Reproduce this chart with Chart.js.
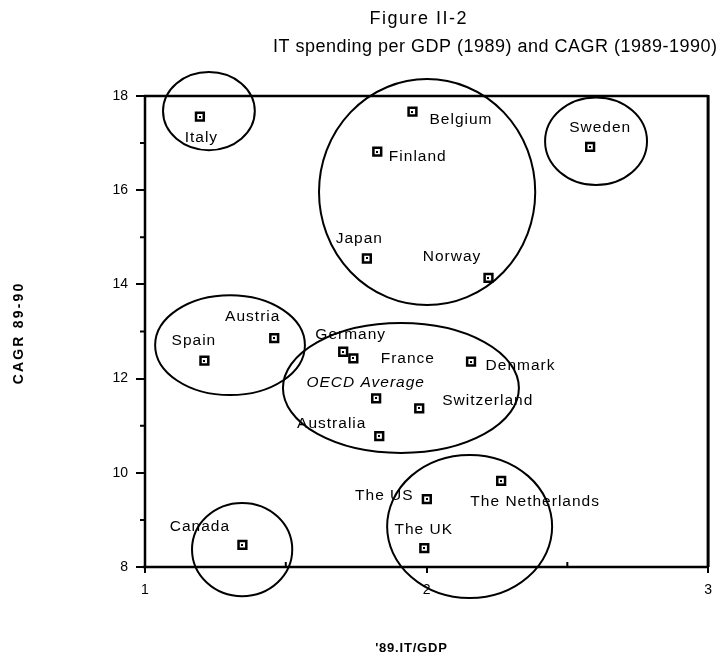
<!DOCTYPE html>
<html><head><meta charset="utf-8">
<script src="https://cdn.jsdelivr.net/npm/chart.js@4/dist/chart.umd.min.js"></script>
<style>html,body{margin:0;padding:0;background:#fff}#wrap{width:721px;height:661px;position:relative}</style>
</head><body><div id="wrap"><canvas id="c" width="721" height="661"></canvas></div>
<script>
// ---- data ----
const countries = ["Italy","Belgium","Finland","Sweden","Japan","Norway","Austria","Spain","Germany","France","Denmark","OECD Average","Switzerland","Australia","The Netherlands","The US","The UK","Canada"];
const itPerGdp89 = [1.195,1.950,1.825,2.581,1.788,2.220,1.459,1.211,1.704,1.740,2.158,1.821,1.974,1.832,2.265,2.001,1.992,1.346];
const cagr8990  = [17.56,17.67,16.82,16.92,14.55,14.14,12.86,12.38,12.57,12.43,12.36,11.58,11.37,10.78,9.83,9.44,8.40,8.47];
const xTickValues = [1,2,3];
const yTickValues = [8,10,12,14,16,18];
const xMinorTickValues = [1.5,2.5];
const yMinorTickValues = [9,11,13,15,17];
// group circles (data units): centre x, centre y, radius x, radius y
const groupCentreX = [1.227,2.002,2.602,1.302,1.909,2.153,1.345];
const groupCentreY = [17.68,15.96,17.04,12.71,11.80,8.86,8.37];
const groupRadiusX = [0.163,0.384,0.181,0.266,0.419,0.293,0.178];
const groupRadiusY = [0.83,2.40,0.93,1.06,1.38,1.52,0.99];
const titleLine1 = "Figure II-2";
const titleLine2 = "IT spending per GDP (1989) and CAGR (1989-1990)";
const xAxisTitle = "'89.IT/GDP";
const yAxisTitle = "CAGR 89-90";

// ---- label placement (pixel offsets from the point, style only) ----
const labelOffsets = [[1,20.5],[48,8],[40,5],[9.5,-19],[-8,-20],[-37,-21],[-22,-21],[-11,-20],[7,-17],[54,0],[49,4],[-11,-16],[68,-8],[-48,-12],[33.5,21],[-43,-3],[-1,-18],[-43,-18]];
const italicLabels = ["OECD Average"];

const FONT = "'Liberation Sans', Arial, Helvetica, sans-serif";

function spacedText(ctx, text, x, y, spacing) {
  ctx.letterSpacing = spacing + 'px';
  ctx.fillText(text, x + spacing / 2, y);
  ctx.letterSpacing = '0px';
}

const decorPlugin = {
  id: 'decor',
  afterDatasetsDraw(chart) {
    const ctx = chart.ctx, xs = chart.scales.x, ys = chart.scales.y, ca = chart.chartArea;
    ctx.save();
    ctx.strokeStyle = '#000';
    ctx.fillStyle = '#000';
    // frame
    ctx.lineWidth = 2.5;
    ctx.beginPath();
    ctx.moveTo(ca.left, ca.bottom); ctx.lineTo(ca.left, ca.top); ctx.lineTo(ca.right, ca.top);
    ctx.moveTo(ca.left - 2, ca.bottom); ctx.lineTo(ca.right, ca.bottom);
    ctx.stroke();
    ctx.lineWidth = 3;
    ctx.beginPath(); ctx.moveTo(ca.right, ca.top - 1); ctx.lineTo(ca.right, ca.bottom); ctx.stroke();
    // minor ticks
    ctx.lineWidth = 2;
    ctx.beginPath();
    yMinorTickValues.forEach(v => { const p = ys.getPixelForValue(v); ctx.moveTo(ca.left - 5, p); ctx.lineTo(ca.left, p); });
    xMinorTickValues.forEach(v => { const p = xs.getPixelForValue(v); ctx.moveTo(p, ca.bottom); ctx.lineTo(p, ca.bottom - 5); });
    ctx.stroke();
    // group ellipses
    ctx.lineWidth = 2;
    for (let i = 0; i < groupCentreX.length; i++) {
      const cx = xs.getPixelForValue(groupCentreX[i]);
      const cy = ys.getPixelForValue(groupCentreY[i]);
      const rx = Math.abs(xs.getPixelForValue(groupCentreX[i] + groupRadiusX[i]) - cx);
      const ry = Math.abs(ys.getPixelForValue(groupCentreY[i] + groupRadiusY[i]) - cy);
      ctx.beginPath(); ctx.ellipse(cx, cy, rx, ry, 0, 0, Math.PI * 2); ctx.stroke();
    }
    // inner dots of markers + labels
    const meta = chart.getDatasetMeta(0);
    ctx.textAlign = 'center'; ctx.textBaseline = 'middle';
    meta.data.forEach((pt, i) => {
      ctx.fillRect(Math.round(pt.x) - 1, Math.round(pt.y) - 1, 2, 2);
      const name = countries[i];
      ctx.font = (italicLabels.includes(name) ? 'italic ' : '') + '15.5px ' + FONT;
      spacedText(ctx, name, pt.x + labelOffsets[i][0], pt.y + labelOffsets[i][1], 1.0);
    });
    // titles
    ctx.font = '18px ' + FONT;
    spacedText(ctx, titleLine1, 418, 19, 1.5);
    spacedText(ctx, titleLine2, 495, 47, 0.5);
    // axis titles
    ctx.font = 'bold 13px ' + FONT;
    spacedText(ctx, xAxisTitle, 411, 648, 0.8);
    ctx.save();
    ctx.translate(19, 334); ctx.rotate(-Math.PI / 2);
    ctx.font = 'bold 14px ' + FONT;
    spacedText(ctx, yAxisTitle, 0, 0, 2.2);
    ctx.restore();
    ctx.restore();
  }
};

new Chart(document.getElementById('c'), {
  type: 'scatter',
  data: {
    datasets: [{
      data: itPerGdp89.map((x, i) => ({ x: x, y: cagr8990[i] })),
      pointStyle: 'rect',
      pointRadius: 5.5,
      pointBorderWidth: 2.5,
      pointBorderColor: '#000',
      pointBackgroundColor: '#fff'
    }]
  },
  options: {
    responsive: false,
    animation: false,
    devicePixelRatio: 1,
    layout: { padding: { top: 96, right: 12, left: 0, bottom: 0 } },
    plugins: { legend: { display: false }, tooltip: { enabled: false }, title: { display: false } },
    scales: {
      x: {
        type: 'linear', min: 1, max: 3,
        afterBuildTicks: s => { s.ticks = xTickValues.map(v => ({ value: v })); },
        afterFit: s => { s.height = 94; },
        border: { display: false },
        grid: { drawOnChartArea: false, drawTicks: true, tickLength: 6, color: '#000', lineWidth: 2 },
        ticks: { color: '#000', padding: 9, font: { family: FONT, size: 14 } }
      },
      y: {
        type: 'linear', min: 8, max: 18,
        afterBuildTicks: s => { s.ticks = yTickValues.map(v => ({ value: v })); },
        afterFit: s => { s.width = 145; },
        border: { display: false },
        grid: { drawOnChartArea: false, drawTicks: true, tickLength: 9, color: '#000', lineWidth: 2 },
        ticks: { color: '#000', padding: 8, font: { family: FONT, size: 14 } }
      }
    }
  },
  plugins: [decorPlugin]
});
</script>
</body></html>
